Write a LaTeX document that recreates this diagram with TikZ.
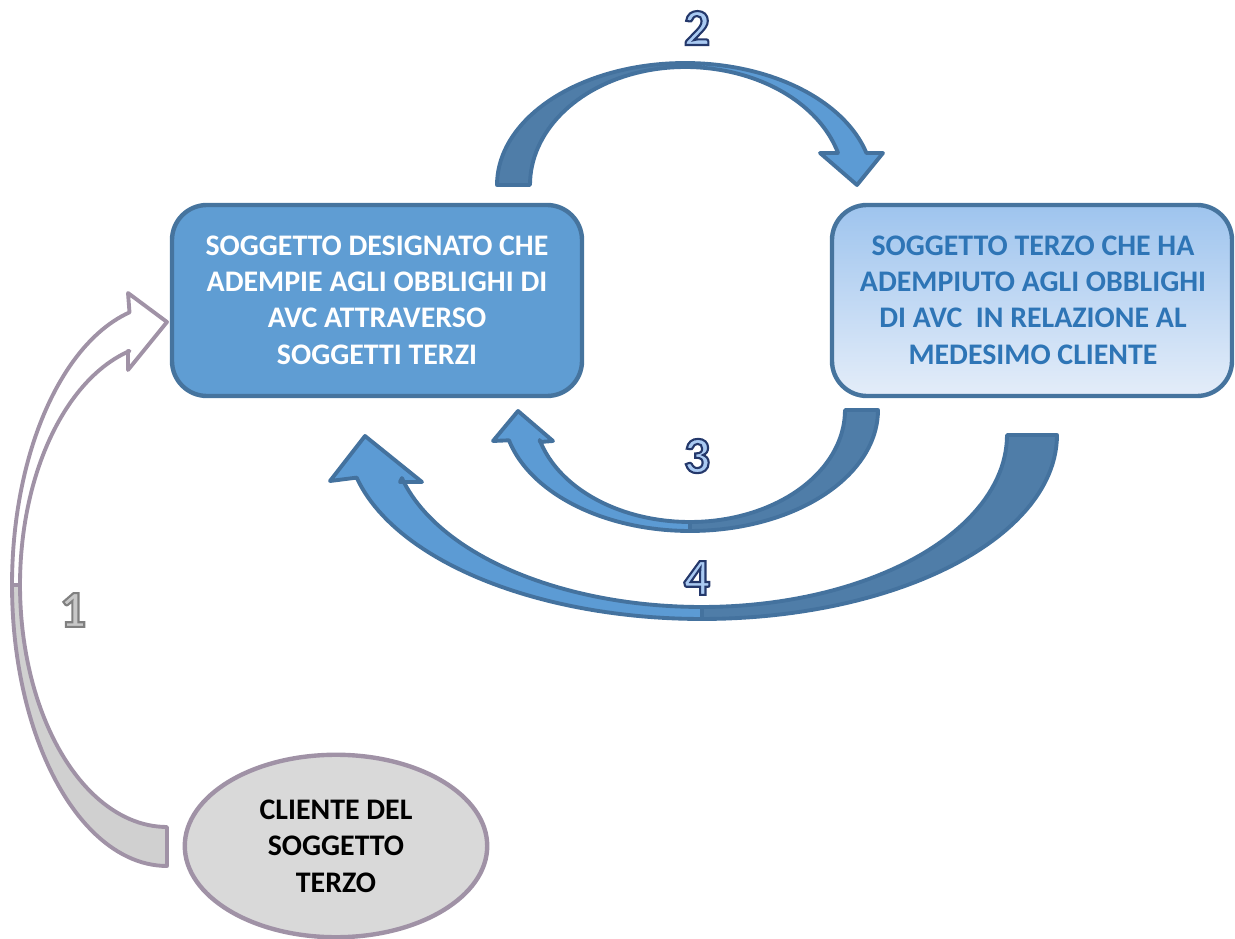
\documentclass[tikz,border=0pt]{standalone}
\usepackage{fontspec}
\setmainfont{Carlito}
\usetikzlibrary{shapes.geometric}
\definecolor{boxblue}{RGB}{95,157,211}
\definecolor{boxedge}{RGB}{70,116,158}
\definecolor{arrdark}{RGB}{79,125,168}
\definecolor{arrlight}{RGB}{92,155,212}
\definecolor{arredge}{RGB}{68,114,158}
\definecolor{gradtop}{RGB}{158,196,238}
\definecolor{gradbot}{RGB}{228,237,249}
\definecolor{termtext}{RGB}{46,117,182}
\definecolor{ellfill}{RGB}{217,217,217}
\definecolor{grayedge}{RGB}{160,146,166}
\definecolor{graybackc}{RGB}{208,208,208}
\definecolor{digfill}{RGB}{170,202,242}
\definecolor{digfillgray}{RGB}{200,200,200}
\newcommand\outlinedig[3]{{\color{#1}\special{pdf:code q 2 Tr 1.2 w #2 RG}#3\special{pdf:code Q}}}
\tikzset{
  boxtext/.style={font=\bfseries\fontsize{17}{20.7}\selectfont, align=center},
  mainbox/.style={draw=boxedge, line width=2.5pt, rounded corners=0.7cm},
  darkband/.style={fill=arrdark, draw=arredge, line width=2.2pt, line join=round},
  lightband/.style={fill=arrlight, draw=arredge, line width=2.2pt, line join=round},
  grayback/.style={fill=graybackc, draw=grayedge, line width=2.2pt, line join=round},
  grayfront/.style={fill=white, draw=grayedge, line width=2.2pt, line join=round},
  digit/.style={font=\bfseries\fontsize{29.5}{30}\selectfont, inner sep=0pt}
}
\begin{document}
\begin{tikzpicture}[x=0.02cm, y=-0.02cm]
\useasboundingbox (0,0) rectangle (1235,939);

% ---- Arrow 2 (top) centre (685,185)
\path[lightband] plot[domain=270:344.8, samples=40] ({685+188*cos(\x)},{185+122*sin(\x)})
  -- (883,153) -- (857,185) -- (820,153) -- (838,153)
  -- plot[domain=344.3:270, samples=40] ({685+159*cos(\x)},{185+118*sin(\x)}) -- cycle;
\path[darkband] plot[domain=180:270, samples=40] ({685+188*cos(\x)},{185+122*sin(\x)})
  -- plot[domain=270:180, samples=40] ({685+155*cos(\x)},{185+118*sin(\x)}) -- cycle;

% ---- Arrow 3 centre (690,410)
\path[lightband] plot[domain=90:165.5, samples=40] ({690+187*cos(\x)},{410+121*sin(\x)})
  -- (493,441) -- (518,411) -- (553,441) -- (540,442)
  -- plot[domain=164.5:90, samples=40] ({690+156*cos(\x)},{410+112*sin(\x)}) -- cycle;
\path[darkband] plot[domain=0:90, samples=40] ({690+188*cos(\x)},{410+121*sin(\x)})
  -- plot[domain=90:0, samples=40] ({690+155*cos(\x)},{410+112*sin(\x)}) -- cycle;

% ---- Arrow 4 centre (702,435)
\path[lightband] plot[domain=90:166.6, samples=50] ({702+355*cos(\x)},{435+184*sin(\x)})
  -- (330,481) -- (365,436) -- (422,482) -- (400,482)
  -- plot[domain=165.5:90, samples=50] ({702+310*cos(\x)},{435+172*sin(\x)}) -- cycle;
\path[darkband] plot[domain=0:90, samples=50] ({702+355*cos(\x)},{435+184*sin(\x)})
  -- plot[domain=90:0, samples=50] ({702+305*cos(\x)},{435+172*sin(\x)}) -- cycle;

% ---- Arrow 1 (gray) centre (167,585)
\path[grayfront] plot[domain=180:256, samples=50] ({167+155*cos(\x)},{585+281*sin(\x)})
  -- (128,293) -- (167,322) -- (128,370) -- (128,351)
  -- plot[domain=255.2:180, samples=50] ({167+147*cos(\x)},{585+242*sin(\x)}) -- cycle;
\path[grayback] plot[domain=90:180, samples=50] ({167+155*cos(\x)},{585+281*sin(\x)})
  -- plot[domain=180:90, samples=50] ({167+147*cos(\x)},{585+242*sin(\x)}) -- cycle;

% ---- Boxes
\path[mainbox, fill=boxblue] (172,205) rectangle (582,396);
\node[boxtext, text=white] (des) at (377,300)
  {SOGGETTO DESIGNATO CHE\\ADEMPIE AGLI OBBLIGHI DI\\AVC ATTRAVERSO\\SOGGETTI TERZI};

\path[mainbox, top color=gradtop, bottom color=gradbot] (832,205) rectangle (1232,396);
\node[boxtext, text=termtext] (ter) at (1033,300)
  {SOGGETTO TERZO CHE HA\\ADEMPIUTO AGLI OBBLIGHI\\DI AVC\ \ IN RELAZIONE AL\\MEDESIMO CLIENTE};

\node[ellipse, draw=grayedge, line width=2.5pt, fill=ellfill, inner sep=0pt,
      minimum width=6.05cm, minimum height=3.65cm, boxtext, text=black] (cli) at (336,846)
  {CLIENTE DEL\\SOGGETTO\\TERZO};

% ---- Digits
\node[digit] (n2) at (697,28) {\outlinedig{digfill}{0.14 0.22 0.42}{2}};
\node[digit] (n3) at (697,456) {\outlinedig{digfill}{0.14 0.22 0.42}{3}};
\node[digit] (n4) at (697,578) {\outlinedig{digfill}{0.14 0.22 0.42}{4}};
\node[digit] (n1) at (73,610) {\outlinedig{digfillgray}{0.5 0.5 0.5}{1}};
\end{tikzpicture}
\end{document}
